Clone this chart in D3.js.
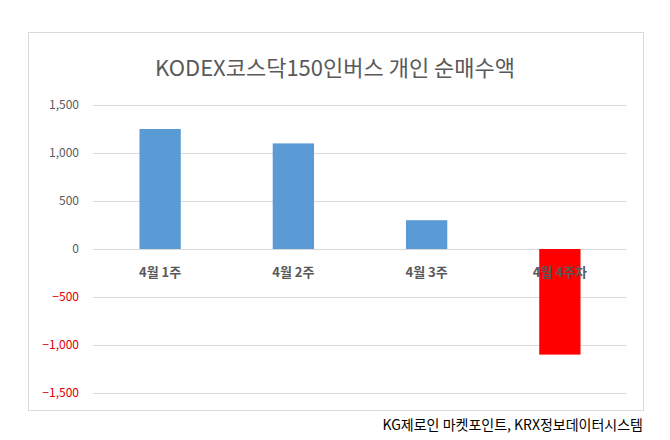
<!DOCTYPE html>
<html><head><meta charset="utf-8">
<script src="https://cdn.jsdelivr.net/npm/d3@7"></script>
<style>body{margin:0;background:#fff}text{font-family:"Noto Sans CJK KR","Malgun Gothic",sans-serif}</style>
</head><body><svg id="c" width="670" height="440"></svg>
<script>
const categories = ["4월 1주", "4월 2주", "4월 3주", "4월 4주차"];
const values = [1250, 1100, 300, -1100];
const ticks = [1500, 1000, 500, 0, -500, -1000, -1500];

const svg = d3.select("#c");
// chart frame
svg.append("rect").attr("x", 28.5).attr("y", 32.5).attr("width", 615).attr("height", 378)
  .attr("fill", "#fff").attr("stroke", "#d9d9d9");

svg.append("text").attr("x", 335).attr("y", 76).attr("text-anchor", "middle")
  .attr("font-size", 22).attr("fill", "#595959").text("KODEX코스닥150인버스 개인 순매수액");

const y = d3.scaleLinear().domain([-1500, 1500]).range([393, 105]);
const x = d3.scaleBand().domain(categories).range([93.5, 626.5])
  .paddingInner(0.69).paddingOuter(0.345);

const yAxis = svg.append("g").attr("transform", "translate(93,0)")
  .call(d3.axisLeft(y).tickValues(ticks).tickSize(-533).tickFormat(d3.format(",")));
yAxis.select(".domain").remove();
yAxis.selectAll("line").attr("stroke", "#d9d9d9");
yAxis.selectAll("text").attr("x", -14).attr("font-size", 12)
  .attr("fill", d => d < 0 ? "#e00000" : "#595959");

svg.selectAll("rect.bar").data(values).enter().append("rect").attr("class", "bar")
  .attr("x", (d, i) => x(categories[i]))
  .attr("width", x.bandwidth())
  .attr("y", d => y(Math.max(0, d)))
  .attr("height", d => Math.abs(y(d) - y(0)))
  .attr("fill", d => d < 0 ? "#ff0000" : "#5b9bd5");

svg.selectAll("text.cat").data(categories).enter().append("text").attr("class", "cat")
  .attr("x", d => x(d) + x.bandwidth() / 2).attr("y", 277).attr("text-anchor", "middle")
  .attr("font-size", 13).attr("font-weight", "bold").attr("fill", "#595959").text(d => d);

svg.append("text").attr("x", 643).attr("y", 430).attr("text-anchor", "end")
  .attr("font-size", 14).attr("fill", "#000").text("KG제로인 마켓포인트, KRX정보데이터시스템");
</script></body></html>
